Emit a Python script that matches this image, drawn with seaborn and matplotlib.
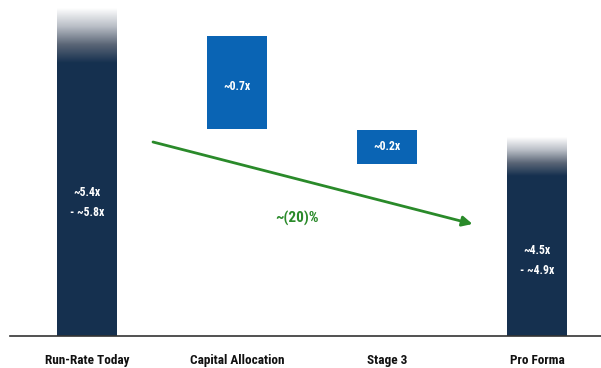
import numpy as np
import matplotlib
matplotlib.use("Agg")
import matplotlib.pyplot as plt
import seaborn as sns
import pandas as pd
from matplotlib.colors import LinearSegmentedColormap
from matplotlib import font_manager as fm

# ---- data (chart units, not to scale with labels) ----
categories = ["Run-Rate Today", "Capital Allocation", "Stage 3", "Pro Forma"]
solid_top = [5.48, 0.0, 0.0, 3.22]        # solid part of total bars
fade_top = [6.56, 0.0, 0.0, 3.98]         # top of gradient fade on total bars
float_bottom = [0.0, 4.14, 3.44, 0.0]     # floating step bars
float_top = [0.0, 6.0, 4.12, 0.0]
value_labels = ["~5.4x\n- ~5.8x", "~0.7x", "~0.2x", "~4.5x\n- ~4.9x"]
label_y = [2.66, 5.0, 3.78, 1.52]
arrow_start = (0.44, 3.88)
arrow_end = (2.57, 2.24)
arrow_text = "~(20)%"

NAVY = "#15304f"
BLUE = "#0a64b4"
GREEN = "#2a8a2a"

sns.set_theme(style="white")
names = {f.name for f in fm.fontManager.ttflist}
narrow = [n for n in ["Liberation Sans Narrow", "Roboto Condensed", "Open Sans Condensed"] if n in names]
plt.rcParams["font.family"] = narrow + ["DejaVu Sans"]
plt.rcParams["font.stretch"] = "condensed"

fig = plt.figure(figsize=(6.01, 3.68), dpi=100)
ax = fig.add_axes([10 / 601, 32 / 368, 591 / 601, 336 / 368])

df = pd.DataFrame({"cat": categories, "val": solid_top})
sns.barplot(data=df, x="cat", y="val", color=NAVY, width=0.4, saturation=1,
            ax=ax, linewidth=0)

# floating bars
for i, (b, t) in enumerate(zip(float_bottom, float_top)):
    if t > b:
        ax.bar(i, t - b, bottom=b, width=0.4, color=BLUE, linewidth=0)

# gradient fades on total bars (white at top -> navy at bottom)
cmap = LinearSegmentedColormap.from_list("fade", ["#ffffff", "#b9bec6", "#5a6576", NAVY])
grad = np.linspace(0, 1, 256).reshape(-1, 1)
for i, (s, f) in enumerate(zip(solid_top, fade_top)):
    if f > s:
        ax.imshow(grad, cmap=cmap, aspect="auto",
                  extent=(i - 0.2, i + 0.2, s - 0.02, f), origin="upper",
                  zorder=2, interpolation="bilinear")

# labels
for i, (lab, y) in enumerate(zip(value_labels, label_y)):
    ax.text(i, y, lab, color="white", ha="center", va="center",
            fontsize=8.5, fontweight="bold", linespacing=1.7, zorder=3)

# arrow
ax.annotate("", xy=arrow_end, xytext=arrow_start,
            arrowprops=dict(arrowstyle="-|>", color=GREEN, lw=2.0,
                            mutation_scale=15, shrinkA=0, shrinkB=0), zorder=4)
ax.text(1.40, 2.36, arrow_text, color=GREEN, ha="center", va="center",
        fontsize=11, fontweight="bold")

ax.set_xlim(-87 / 150 + 10 / 150, (601 - 87) / 150)
ax.set_ylim(0, 336 / 50)
ax.set_xlabel("")
ax.set_ylabel("")
ax.set_yticks([])
ax.tick_params(axis="x", length=0, pad=13)
for lbl in ax.get_xticklabels():
    lbl.set_fontweight("bold")
    lbl.set_fontsize(9.5)
    lbl.set_color("#111111")
for side in ["top", "right", "left"]:
    ax.spines[side].set_visible(False)
ax.spines["bottom"].set_color("#333333")
ax.spines["bottom"].set_linewidth(1.2)

fig.savefig("out.png", dpi=100)
